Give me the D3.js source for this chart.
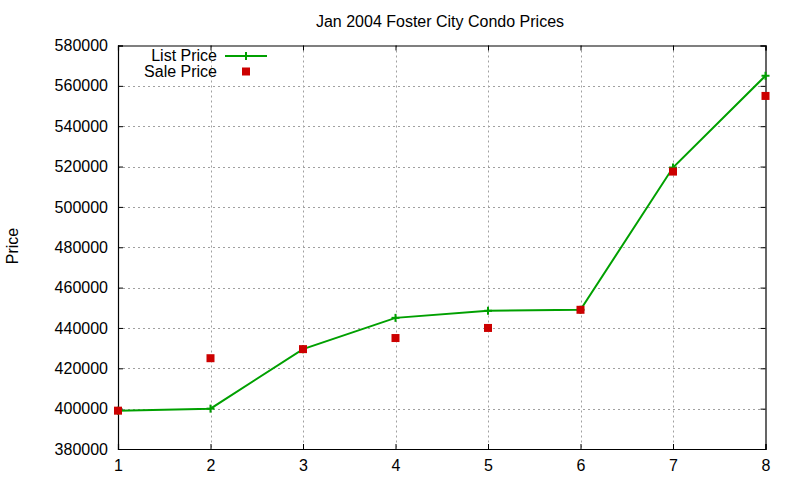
<!DOCTYPE html>
<html>
<head>
<meta charset="utf-8">
<script src="https://cdn.jsdelivr.net/npm/d3@7"></script>
<style>
  html, body { margin: 0; padding: 0; background: #fff; }
  text { font-family: "Liberation Sans", Arial, sans-serif; fill: #000; }
</style>
</head>
<body>
<svg id="chart" width="800" height="480"></svg>
<script>
const xValues = [1, 2, 3, 4, 5, 6, 7, 8];
const listPrice = [399000, 400000, 429500, 445000, 448500, 449000, 519500, 565000];
const salePrice = [399000, 425000, 429500, 435000, 440000, 449000, 517500, 555000];
const yTicks = [380000, 400000, 420000, 440000, 460000, 480000, 500000, 520000, 540000, 560000, 580000];
const xTicks = [1, 2, 3, 4, 5, 6, 7, 8];
const titleText = "Jan 2004 Foster City Condo Prices";
const yLabel = "Price";
const seriesNames = ["List Price", "Sale Price"];

const svg = d3.select("#chart");
const pLeft = 118, pRight = 765.5, pTop = 45.5, pBottom = 449;
const green = "#00a000", red = "#cc0000";

const x = d3.scaleLinear().domain([1, 8]).range([pLeft, pRight]);
const y = d3.scaleLinear().domain([380000, 580000]).range([pBottom, pTop]);

// grid
const grid = svg.append("g").attr("stroke", "#a0a0a0").attr("stroke-width", 1).attr("stroke-dasharray", "2,3");
grid.selectAll("line.h").data(yTicks.slice(1, -1)).enter().append("line")
  .attr("x1", pLeft).attr("x2", pRight).attr("y1", d => Math.round(y(d)) + 0.5).attr("y2", d => Math.round(y(d)) + 0.5);
grid.selectAll("line.v").data(xTicks.slice(1, -1)).enter().append("line")
  .attr("y1", pTop).attr("y2", pBottom).attr("x1", d => Math.round(x(d)) + 0.5).attr("x2", d => Math.round(x(d)) + 0.5);

// axes with inward ticks on all sides
const tickLen = 5;
const axL = svg.append("g").attr("transform", `translate(${pLeft},0)`)
  .call(d3.axisLeft(y).tickValues(yTicks).tickSize(-tickLen).tickPadding(10).tickFormat(d3.format("d")));
const axR = svg.append("g").attr("transform", `translate(${pRight},0)`)
  .call(d3.axisRight(y).tickValues(yTicks).tickSize(-tickLen).tickFormat(""));
const axB = svg.append("g").attr("transform", `translate(0,${pBottom})`)
  .call(d3.axisBottom(x).tickValues(xTicks).tickSize(-tickLen).tickPadding(8).tickFormat(d3.format("d")));
const axT = svg.append("g").attr("transform", `translate(0,${pTop})`)
  .call(d3.axisTop(x).tickValues(xTicks).tickSize(-tickLen).tickFormat(""));
[axL, axR, axB, axT].forEach(a => {
  a.selectAll(".domain").attr("stroke", "#000").attr("stroke-width", 1.2);
  a.selectAll(".tick line").attr("stroke", "#000");
  a.selectAll(".tick text").attr("font-family", "Liberation Sans, Arial, sans-serif").attr("font-size", 16).attr("fill", "#000");
});
axB.selectAll(".tick text").attr("dy", "0.85em");

// list price line
const line = d3.line().x((d, i) => x(xValues[i])).y(d => y(d));
svg.append("path").datum(listPrice).attr("d", line)
  .attr("fill", "none").attr("stroke", green).attr("stroke-width", 2);
const plus = (g, cx, cy) => {
  g.append("line").attr("x1", cx - 4).attr("x2", cx + 4).attr("y1", cy).attr("y2", cy).attr("stroke", green).attr("stroke-width", 2);
  g.append("line").attr("x1", cx).attr("x2", cx).attr("y1", cy - 4).attr("y2", cy + 4).attr("stroke", green).attr("stroke-width", 2);
};
const pg = svg.append("g");
listPrice.forEach((v, i) => plus(pg, x(xValues[i]), y(v)));

// sale price squares
svg.append("g").selectAll("rect").data(salePrice).enter().append("rect")
  .attr("x", (d, i) => x(xValues[i]) - 4).attr("y", d => y(d) - 4)
  .attr("width", 8).attr("height", 8).attr("fill", red);

// title and labels
svg.append("text").attr("x", 440).attr("y", 27).attr("text-anchor", "middle").attr("font-size", 16).text(titleText);
svg.append("text").attr("transform", "translate(18,246) rotate(-90)").attr("text-anchor", "middle").attr("font-size", 16).text(yLabel);

// legend
const lg = svg.append("g");
lg.append("text").attr("x", 217).attr("y", 61).attr("text-anchor", "end").attr("font-size", 16).text(seriesNames[0]);
lg.append("line").attr("x1", 225).attr("x2", 267).attr("y1", 56).attr("y2", 56).attr("stroke", green).attr("stroke-width", 2);
plus(lg, 246, 56);
lg.append("text").attr("x", 217).attr("y", 77).attr("text-anchor", "end").attr("font-size", 16).text(seriesNames[1]);
lg.append("rect").attr("x", 242).attr("y", 67.5).attr("width", 8).attr("height", 8).attr("fill", red);
</script>
</body>
</html>
